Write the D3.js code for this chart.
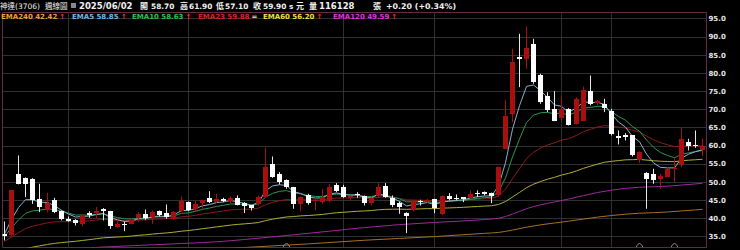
<!DOCTYPE html>
<html>
<head>
<meta charset="utf-8">
<script src="https://cdn.jsdelivr.net/npm/d3@7/dist/d3.min.js"></script>
<style>
  html, body { margin: 0; padding: 0; background: #000; }
  svg { display: block; }
</style>
</head>
<body>
<div id="chart"></div>
<script>
// 神達(3706) weekly candles, last bar = 2025/06/02
var opens = [35.68,35.22,52.21,51.1,50.83,45.32,42.11,44.86,41.92,39.63,39.54,38.16,41.46,41.19,42.38,41.92,37.52,38.43,38.43,39.81,
  41.0,40.27,41.92,41.37,39.81,41.83,44.4,42.29,43.94,45.6,44.4,45.32,44.86,45.6,44.1,43.49,43.76,45.78,54.96,52.21,
  50.55,48.53,43.94,46.24,44.49,44.4,44.58,49.18,48.53,45.32,46.7,45.96,44.13,45.96,48.72,45.6,44.13,41.46,42.1,44.58,
  44.4,45.14,41.0,45.96,45.6,45.78,45.6,46.88,47.16,46.97,46.24,59.28,68.74,84.35,83.89,87.84,79.3,73.51,70.12,67.64,
  70.12,65.98,66.9,74.98,71.5,71.31,69.47,62.58,62.77,62.77,55.88,52.4,52.03,50.55,51.47,53.5,54.78,60.93,60.1,58.7];
var highs = [39.08,47.7,57.26,51.2,51.0,49.45,46.97,45.6,42.1,40.45,39.7,41.0,41.92,43.03,42.75,42.0,39.35,39.08,39.8,41.65,
  42.38,42.1,42.1,43.76,41.92,45.96,44.58,44.67,45.05,47.43,46.7,45.6,45.96,46.24,44.4,43.67,46.24,59.37,56.98,52.67,
  50.65,48.6,45.96,46.7,45.78,48.07,49.45,49.64,49.18,46.24,47.16,46.24,45.78,49.64,49.64,46.24,44.58,41.6,45.05,45.05,
  45.32,45.32,46.24,46.88,46.51,45.8,47.62,47.62,47.34,47.0,54.23,72.6,86.65,90.78,92.8,89.4,79.76,74.7,74.98,73.51,
  70.3,73.33,76.27,79.3,72.6,72.87,70.12,64.15,63.41,62.8,58.45,52.67,53.59,52.21,54.05,56.5,64.79,61.85,64.15,61.9];
var lows = [33.84,35.0,49.3,45.78,43.9,41.65,41.65,41.37,39.35,38.98,37.97,37.7,40.08,39.81,39.35,37.05,37.33,36.41,38.2,38.9,
  39.54,38.43,40.45,39.81,39.54,41.65,41.92,41.65,42.56,44.13,44.13,44.4,44.13,43.49,41.4,42.1,43.49,45.6,51.1,49.27,
  48.07,42.56,41.92,43.67,42.1,43.94,44.4,47.16,45.6,44.86,45.6,43.49,43.49,45.6,45.6,43.03,41.19,35.86,41.83,43.49,
  44.13,41.37,40.82,44.86,44.86,44.4,45.32,45.78,46.24,44.13,45.96,59.1,66.44,76.1,81.13,77.0,71.5,69.2,66.72,66.9,
  65.53,65.8,66.72,71.03,71.03,69.2,62.77,60.29,61.39,56.98,55.15,42.57,49.45,48.07,51.29,49.9,54.05,58.64,59.37,57.1];
var closes = [35.22,47.62,49.45,49.45,45.05,43.03,44.13,41.65,39.63,39.08,38.62,40.73,40.82,41.83,41.83,37.7,38.43,38.16,39.54,41.0,
  39.81,41.65,40.73,40.27,41.65,44.58,42.1,43.76,44.86,44.4,45.32,44.86,45.6,43.76,43.2,42.56,45.78,54.04,51.47,49.9,
  48.53,43.94,45.78,43.94,44.86,45.78,48.53,47.62,45.78,45.96,46.42,44.13,45.6,48.53,45.78,43.76,43.03,40.73,44.58,44.3,
  45.05,42.56,45.96,45.14,45.32,45.23,46.7,46.51,46.51,46.24,54.05,68.27,82.97,83.89,86.92,77.46,71.95,69.66,66.9,70.12,
  65.8,72.87,75.35,71.31,72.14,70.12,63.23,62.13,62.31,57.26,58.18,50.83,50.37,51.47,53.59,53.8,61.85,59.74,59.7,59.9];
var lastVolume = "116128";

// moving averages, one value per bar
var ema5 = [35.6,39.61,42.89,45.08,45.07,44.39,44.3,43.42,42.16,41.13,40.29,40.44,40.57,40.99,41.27,40.08,39.53,39.07,39.23,39.82,
  39.82,40.43,40.53,40.44,40.84,42.09,42.09,42.65,43.39,43.73,44.26,44.46,44.84,44.48,44.05,43.55,44.29,47.54,48.85,49.2,
  48.98,47.3,46.79,45.84,45.51,45.6,46.58,46.93,46.55,46.35,46.37,45.62,45.61,46.58,46.31,45.46,44.65,43.34,43.75,43.93,
  44.3,43.72,44.47,44.69,44.9,45.01,45.57,45.88,46.09,46.14,48.78,55.28,64.51,70.97,76.29,76.68,75.1,73.29,71.16,70.81,
  69.14,70.38,72.04,71.8,71.91,71.31,68.62,66.46,65.08,62.47,61.04,57.64,55.22,53.97,53.84,53.83,56.5,57.6,58.3,58.85];
var ema10 = [35.0,37.29,39.5,41.31,41.99,42.18,42.53,42.37,41.87,41.36,40.86,40.84,40.84,41.02,41.17,40.54,40.16,39.8,39.75,39.98,
  39.95,40.26,40.35,40.34,40.58,41.31,41.45,41.87,42.41,42.77,43.23,43.53,43.91,43.88,43.76,43.54,43.95,45.78,46.81,47.37,
  47.58,46.92,46.71,46.21,45.96,45.93,46.4,46.62,46.47,46.38,46.39,45.98,45.91,46.39,46.28,45.82,45.31,44.48,44.5,44.46,
  44.57,44.2,44.52,44.63,44.76,44.85,45.19,45.43,45.63,45.74,47.25,51.07,56.87,61.78,66.35,68.37,69.02,69.14,68.73,68.98,
  68.4,69.21,70.33,70.51,70.81,70.68,69.33,68.02,66.98,65.21,63.93,61.55,59.52,58.06,57.25,56.62,57.57,57.98,58.33,58.63];
var ema23 = [33.6,34.77,35.99,37.11,37.77,38.21,38.7,38.95,39.01,39.02,38.99,39.13,39.27,39.48,39.68,39.52,39.43,39.32,39.34,39.48,
  39.51,39.69,39.78,39.82,39.97,40.35,40.5,40.77,41.11,41.38,41.71,41.97,42.27,42.39,42.46,42.47,42.75,43.69,44.34,44.8,
  45.11,45.01,45.07,44.98,44.97,45.04,45.33,45.52,45.54,45.58,45.65,45.52,45.53,45.78,45.78,45.61,45.4,45.01,44.97,44.91,
  44.92,44.72,44.82,44.85,44.89,44.92,45.07,45.19,45.3,45.38,46.1,47.95,50.87,53.62,56.39,58.15,59.3,60.16,60.72,61.5,
  61.86,62.78,63.83,64.45,65.09,65.51,65.32,65.05,64.82,64.19,63.69,62.62,61.6,60.78,60.2,59.7,59.88,59.87,59.86,59.88];
var ema60 = [29.72,30.31,30.94,31.55,31.99,32.35,32.74,33.03,33.25,33.44,33.61,33.84,34.07,34.32,34.57,34.67,34.79,34.9,35.05,35.25,
  35.4,35.6,35.77,35.92,36.11,36.39,36.58,36.81,37.08,37.32,37.58,37.82,38.07,38.26,38.42,38.56,38.8,39.3,39.7,40.03,
  40.31,40.43,40.61,40.72,40.85,41.01,41.26,41.47,41.61,41.75,41.9,41.97,42.09,42.3,42.41,42.45,42.47,42.41,42.48,42.54,
  42.62,42.62,42.73,42.81,42.89,42.97,43.09,43.2,43.31,43.41,43.76,44.56,45.82,47.07,48.38,49.33,50.07,50.71,51.24,51.86,
  52.32,52.99,53.72,54.3,54.88,55.38,55.64,55.85,56.06,56.1,56.17,55.99,55.81,55.67,55.6,55.56,55.8,55.95,56.08,56.2];
// slow averages, read at a few bars: [bar index, value]
var ema120 = [[0,30.0],[10,31.6],[17,32.3],[25,33.0],[31,33.6],[34,34.1],[40,35.2],[46,36.4],[51,37.4],[56,38.2],[61,38.8],
  [68,39.6],[70,39.95],[72,41.1],[74,42.6],[76,43.65],[78,44.45],[80,45.25],[82,46.2],[84,47.05],[86,47.7],[88,48.2],
  [90,48.5],[92,48.65],[94,48.8],[96,49.1],[98,49.42],[99,49.59]];
var ema240 = [[0,28.2],[20,30.2],[34,31.9],[43,32.9],[51,33.9],[61,34.9],[68,35.8],[70,36.05],[72,36.7],[74,37.5],[76,38.15],
  [78,38.65],[80,39.15],[82,39.73],[84,40.27],[86,40.71],[88,41.07],[90,41.35],[92,41.5],[94,41.68],[96,41.97],[98,42.26],[99,42.42]];

var yTicks = [95, 90, 85, 80, 75, 70, 65, 60, 55, 50, 45, 40, 35];
var gridBars = [9, 26, 48, 61, 79, 86];   // vertical separators
var markBars = [40, 90, 95];              // small ^ markers at the bottom

var W = 740, H = 250;
var top_ = 12.5, bottom = 247.5, left = 2.5, right = 706.5;

var svg = d3.select("#chart").append("svg")
  .attr("width", W).attr("height", H)
  .style("background", "#000");

var x = d3.scaleBand()
  .domain(d3.range(closes.length))
  .range([1.2, 706.5])
  .paddingInner(0.28).paddingOuter(0.14);
var y = d3.scaleLinear().domain([31.9, 96.65]).range([bottom, top_]);
var cx = function (i) { return Math.floor(x(i) + x.bandwidth() / 2) + 0.5; };

svg.append("defs").append("clipPath").attr("id", "clip")
  .append("rect").attr("x", left).attr("y", top_).attr("width", right - left).attr("height", bottom - top_);

// grid
var grid = svg.append("g");
grid.selectAll(".hg").data(yTicks).enter().append("line")
  .attr("x1", left).attr("x2", right)
  .attr("y1", function (d) { return Math.round(y(d)) + 0.5; })
  .attr("y2", function (d) { return Math.round(y(d)) + 0.5; })
  .attr("stroke", "#303030");
grid.selectAll(".vg").data(gridBars).enter().append("line")
  .attr("x1", cx).attr("x2", cx)
  .attr("y1", top_).attr("y2", bottom)
  .attr("stroke", "#303030");

// frame
svg.append("path")
  .attr("d", "M" + left + "," + bottom + "V" + top_ + "H" + right + "V" + bottom + "H" + left)
  .attr("fill", "none").attr("stroke", "#5e2c44");

// axis
var yAxis = svg.append("g")
  .attr("transform", "translate(" + (right + 1) + ",0)")
  .call(d3.axisRight(y).tickValues(yTicks).tickFormat(d3.format(".1f")).tickSize(0).tickPadding(1));
yAxis.select(".domain").remove();
yAxis.selectAll("text")
  .attr("fill", "#e6e6e6")
  .style("font", "bold 7px 'DejaVu Sans'");

var plot = svg.append("g").attr("clip-path", "url(#clip)");

// moving averages
var lineIdx = d3.line()
  .x(function (d, i) { return cx(i); })
  .y(function (d) { return y(d); });
var lineKnots = d3.line()
  .x(function (d) { return cx(d[0]); })
  .y(function (d) { return y(d[1]); })
  .curve(d3.curveMonotoneX);

plot.append("path").datum(ema240).attr("d", lineKnots).attr("fill", "none").attr("stroke", "#a86e2a");
plot.append("path").datum(ema120).attr("d", lineKnots).attr("fill", "none").attr("stroke", "#9a2a9c");
plot.append("path").datum(ema60).attr("d", lineIdx).attr("fill", "none").attr("stroke", "#b0ae38");
plot.append("path").datum(ema23).attr("d", lineIdx).attr("fill", "none").attr("stroke", "#8a1c1c");
plot.append("path").datum(ema10).attr("d", lineIdx).attr("fill", "none").attr("stroke", "#2c9650");
plot.append("path").datum(ema5).attr("d", lineIdx).attr("fill", "none").attr("stroke", "#86b2cc");

// candles: red = up, white = down
var upCol = "#a80f0f", dnCol = "#ffffff";
var bars = plot.selectAll(".bar").data(closes).enter().append("g");
bars.append("line")
  .attr("x1", function (d, i) { return cx(i); })
  .attr("x2", function (d, i) { return cx(i); })
  .attr("y1", function (d, i) { return y(highs[i]); })
  .attr("y2", function (d, i) { return y(lows[i]); })
  .attr("stroke", function (d, i) { return d >= opens[i] ? upCol : "#e8e8e8"; });
bars.append("rect")
  .attr("x", function (d, i) { return cx(i) - 2.5; })
  .attr("width", 5)
  .attr("y", function (d, i) { return Math.round(y(Math.max(d, opens[i]))); })
  .attr("height", function (d, i) { return Math.max(1, Math.round(Math.abs(y(d) - y(opens[i])))); })
  .attr("fill", function (d, i) { return d >= opens[i] ? upCol : dnCol; });

// bottom markers
svg.selectAll(".mk").data(markBars).enter().append("path")
  .attr("d", function (d) { var c = cx(d); return "M" + (c - 3) + ",247V246L" + c + ",243L" + (c + 3) + ",246V247"; })
  .attr("fill", "none").attr("stroke", "#9a8a90");

// header line
var last = closes.length - 1;
var chg = closes[last] - closes[last - 1];
var f2 = d3.format(".2f");
var hdr = svg.append("text").attr("y", 9)
  .style("font-family", "'DejaVu Sans', 'Noto Sans CJK TC'").attr("fill", "#f2f2f2");
// [x, text, size, weight]
var hdrParts = [
  [0, "神達(3706)", 7.5, "normal"], [45, "週線圖", 7.5, "normal"], [79, "2025/06/02", 8.5, "bold"],
  [140, "開", 8, "bold"], [151, f2(opens[last]), 7.4, "bold"],
  [180, "高", 8, "bold"], [189, f2(highs[last]), 7.4, "bold"],
  [216, "低", 8, "bold"], [225, f2(lows[last]), 7.4, "bold"],
  [253, "收", 8, "bold"], [263, f2(closes[last]), 7.4, "bold"],
  [289, "s", 7.2, "bold"], [296, "元", 8, "bold"],
  [309, "量", 8, "bold"], [319, lastVolume, 8.5, "bold"], [373, "張", 8, "bold"],
  [386, (chg >= 0 ? "+" : "") + f2(chg) + " (" + (chg >= 0 ? "+" : "") + f2(chg / closes[last - 1] * 100) + "%)", 7.9, "bold"]
];
hdrParts.forEach(function (p) {
  hdr.append("tspan").attr("x", p[0]).text(p[1])
    .style("font-size", p[2] + "px").style("font-weight", p[3]);
});
svg.append("rect").attr("x", 71).attr("y", 3).attr("width", 5).attr("height", 5).attr("fill", "#8a8a8a");

// legend
var legend = [
  [1, "EMA240", ema240[ema240.length - 1][1], "#f0a030", "↑"],
  [72, "EMA5", ema5[last], "#6cb8e8", "↑"],
  [132, "EMA10", ema10[last], "#2ac24a", "↑"],
  [198, "EMA23", ema23[last], "#e02020", "="],
  [263, "EMA60", ema60[last], "#ece040", "↑"],
  [333, "EMA120", ema120[ema120.length - 1][1], "#e030e0", "↑"]
];
var lg = svg.append("g").style("font", "bold 7px 'DejaVu Sans'");
legend.forEach(function (l) {
  var t = lg.append("text").attr("x", l[0]).attr("y", 18.5);
  t.append("tspan").attr("fill", l[3]).text(l[1] + " " + f2(l[2]));
  t.append("tspan").attr("fill", l[4] === "=" ? "#e0e0e0" : "#ff2a2a").attr("dx", 2).text(l[4]);
});
</script>
</body>
</html>
